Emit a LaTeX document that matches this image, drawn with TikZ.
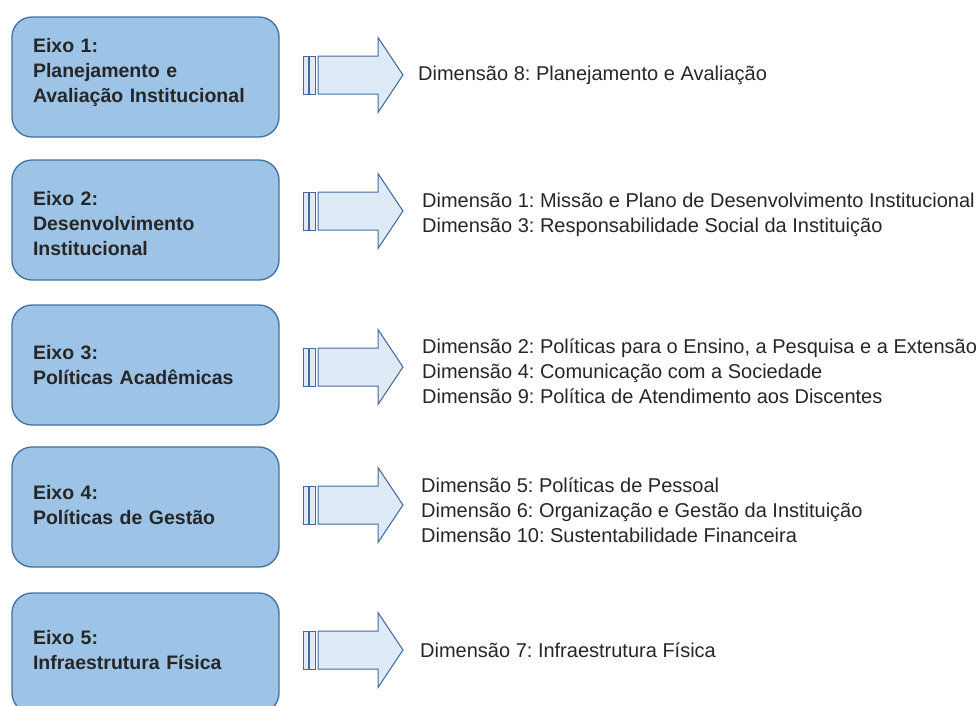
\documentclass[tikz,border=0pt]{standalone}
\usepackage{fontspec}
\setmainfont{Liberation Sans}
\definecolor{boxfill}{RGB}{157,195,230}
\definecolor{boxline}{RGB}{65,113,156}
\definecolor{arrfill}{RGB}{222,235,247}
\definecolor{arrline}{RGB}{70,105,160}
\tikzset{
  eixo/.style={draw=boxline, fill=boxfill, line width=1.3pt, rounded corners=20pt,
    minimum width=267pt, minimum height=120pt, text width=225pt, inner xsep=21pt,
    align=left, font=\fontsize{19.5}{25}\selectfont\bfseries, text=black!85},
  dimtext/.style={anchor=west, align=left, inner sep=0pt,
    font=\fontsize{20}{25}\selectfont, text=black!85},
  blockarr/.style={draw=arrline, fill=arrfill, line width=1pt, line join=miter},
  arrbar/.style={draw=arrline, fill=arrfill, line width=1pt}
}
\newcommand{\blockarrow}[2]{%
  \coordinate (#2) at (318,#1);
  \draw[arrbar] ([shift={(-15,-19)}]#2) rectangle ([shift={(-10,19)}]#2);
  \draw[arrbar] ([shift={(-8.5,-19)}]#2) rectangle ([shift={(-3,19)}]#2);
  \draw[blockarr] ([shift={(0,-19)}]#2) -- ([shift={(60,-19)}]#2) -- ([shift={(60,-37.5)}]#2)
    -- ([shift={(85,0)}]#2) -- ([shift={(60,37.5)}]#2) -- ([shift={(60,19)}]#2)
    -- ([shift={(0,19)}]#2) -- cycle;
}
\begin{document}
\frenchspacing
\begin{tikzpicture}[x=1pt,y=-1pt]
\useasboundingbox (0,0) rectangle (977,705);
\node[eixo] (e1) at (145.5,77) {Eixo 1:\\Planejamento e\\Avaliação Institucional\\[-11pt]\mbox{}};
\node[eixo] (e2) at (145.5,220) {Eixo 2:\\Desenvolvimento\\Institucional\\[-31pt]\mbox{}};
\node[eixo] (e3) at (145.5,365) {Eixo 3:\\Políticas Acadêmicas};
\node[eixo] (e4) at (145.5,507) {Eixo 4:\\Políticas de Gestão\\[-21pt]\mbox{}};
\node[eixo] (e5) at (145.5,653) {Eixo 5:\\Infraestrutura Física\\[-19pt]\mbox{}};

\blockarrow{75}{a1}
\blockarrow{211}{a2}
\blockarrow{367}{a3}
\blockarrow{505}{a4}
\blockarrow{650}{a5}

\node[dimtext] (d1) at (418,75) {Dimensão 8: Planejamento e Avaliação};
\node[dimtext] (d2) at (422,214.5) {Dimensão 1: Missão e Plano de Desenvolvimento Institucional\\Dimensão 3: Responsabilidade Social da Instituição};
\node[dimtext] (d3) at (422,371) {Dimensão 2: Políticas para o Ensino, a Pesquisa e a Extensão\\Dimensão 4: Comunicação com a Sociedade\\Dimensão 9: Política de Atendimento aos Discentes};
\node[dimtext] (d4) at (421,510) {Dimensão 5: Políticas de Pessoal\\Dimensão 6: Organização e Gestão da Instituição\\Dimensão 10: Sustentabilidade Financeira};
\node[dimtext] (d5) at (420,650) {Dimensão 7: Infraestrutura Física};
\end{tikzpicture}
\end{document}
